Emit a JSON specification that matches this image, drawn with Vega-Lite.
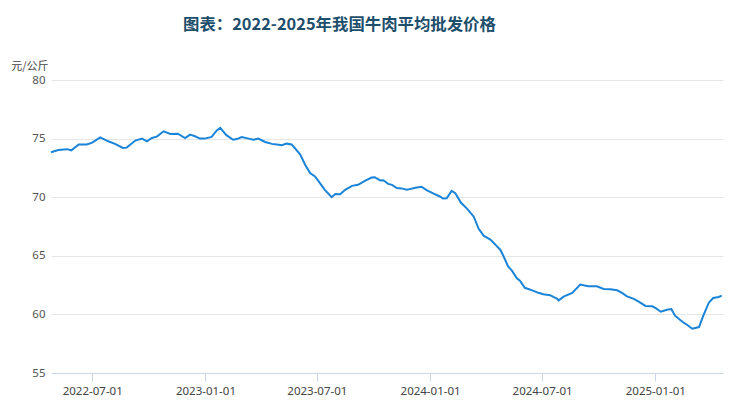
{
  "$schema": "https://vega.github.io/schema/vega-lite/v6.json",
  "width": 672,
  "height": 293,
  "autosize": "none",
  "padding": {"left": 51, "top": 80, "right": 27, "bottom": 42},
  "background": "#ffffff",
  "title": {
    "text": "图表：2022-2025年我国牛肉平均批发价格",
    "anchor": "start",
    "frame": "group",
    "dx": 132,
    "offset": 27,
    "font": "Noto Sans CJK SC",
    "fontSize": 16.4,
    "fontWeight": "bold",
    "color": "#1d4e6b"
  },
  "config": {
    "view": {"stroke": null},
    "axis": {
      "labelFont": "Noto Sans",
      "labelFontSize": 11,
      "labelColor": "#666666",
      "titleFont": "Noto Sans CJK SC",
      "titleFontWeight": "normal"
    }
  },
  "data": {
    "values": [
      {"date": "2022-04-25", "price": 73.83},
      {"date": "2022-05-07", "price": 74.03},
      {"date": "2022-05-21", "price": 74.1},
      {"date": "2022-05-28", "price": 74.0},
      {"date": "2022-06-09", "price": 74.5},
      {"date": "2022-06-22", "price": 74.5},
      {"date": "2022-07-01", "price": 74.65},
      {"date": "2022-07-14", "price": 75.1},
      {"date": "2022-07-27", "price": 74.77},
      {"date": "2022-08-07", "price": 74.55},
      {"date": "2022-08-20", "price": 74.2},
      {"date": "2022-08-26", "price": 74.23},
      {"date": "2022-09-09", "price": 74.83},
      {"date": "2022-09-20", "price": 75.0},
      {"date": "2022-09-28", "price": 74.77},
      {"date": "2022-10-06", "price": 75.05},
      {"date": "2022-10-14", "price": 75.17},
      {"date": "2022-10-25", "price": 75.62},
      {"date": "2022-11-05", "price": 75.4},
      {"date": "2022-11-17", "price": 75.42},
      {"date": "2022-11-29", "price": 75.05},
      {"date": "2022-12-07", "price": 75.34},
      {"date": "2022-12-15", "price": 75.2},
      {"date": "2022-12-23", "price": 75.0},
      {"date": "2022-12-31", "price": 75.0},
      {"date": "2023-01-11", "price": 75.14},
      {"date": "2023-01-19", "price": 75.68},
      {"date": "2023-01-25", "price": 75.91},
      {"date": "2023-02-04", "price": 75.29},
      {"date": "2023-02-15", "price": 74.9},
      {"date": "2023-02-21", "price": 74.96},
      {"date": "2023-03-01", "price": 75.14},
      {"date": "2023-03-12", "price": 75.0},
      {"date": "2023-03-20", "price": 74.9},
      {"date": "2023-03-28", "price": 75.0},
      {"date": "2023-04-08", "price": 74.71},
      {"date": "2023-04-19", "price": 74.55},
      {"date": "2023-04-27", "price": 74.5},
      {"date": "2023-05-05", "price": 74.43},
      {"date": "2023-05-13", "price": 74.57},
      {"date": "2023-05-21", "price": 74.5},
      {"date": "2023-05-26", "price": 74.2},
      {"date": "2023-06-04", "price": 73.63},
      {"date": "2023-06-12", "price": 72.77},
      {"date": "2023-06-20", "price": 72.06},
      {"date": "2023-06-28", "price": 71.77},
      {"date": "2023-07-06", "price": 71.2},
      {"date": "2023-07-14", "price": 70.63},
      {"date": "2023-07-25", "price": 70.0},
      {"date": "2023-07-31", "price": 70.28},
      {"date": "2023-08-08", "price": 70.26},
      {"date": "2023-08-16", "price": 70.63},
      {"date": "2023-08-27", "price": 70.97},
      {"date": "2023-09-06", "price": 71.06},
      {"date": "2023-09-17", "price": 71.4},
      {"date": "2023-09-28", "price": 71.68},
      {"date": "2023-10-03", "price": 71.71},
      {"date": "2023-10-12", "price": 71.43},
      {"date": "2023-10-17", "price": 71.45},
      {"date": "2023-10-25", "price": 71.14},
      {"date": "2023-10-31", "price": 71.05},
      {"date": "2023-11-08", "price": 70.78},
      {"date": "2023-11-16", "price": 70.75},
      {"date": "2023-11-24", "price": 70.63},
      {"date": "2023-11-29", "price": 70.69},
      {"date": "2023-12-08", "price": 70.8},
      {"date": "2023-12-18", "price": 70.89},
      {"date": "2023-12-27", "price": 70.58},
      {"date": "2024-01-06", "price": 70.32},
      {"date": "2024-01-17", "price": 70.06},
      {"date": "2024-01-22", "price": 69.89},
      {"date": "2024-01-28", "price": 69.91},
      {"date": "2024-02-05", "price": 70.54},
      {"date": "2024-02-11", "price": 70.34},
      {"date": "2024-02-20", "price": 69.54},
      {"date": "2024-03-01", "price": 69.03},
      {"date": "2024-03-12", "price": 68.34},
      {"date": "2024-03-20", "price": 67.3},
      {"date": "2024-03-28", "price": 66.72},
      {"date": "2024-04-08", "price": 66.38},
      {"date": "2024-04-16", "price": 65.95},
      {"date": "2024-04-24", "price": 65.52},
      {"date": "2024-04-29", "price": 65.0},
      {"date": "2024-05-07", "price": 64.08},
      {"date": "2024-05-13", "price": 63.73},
      {"date": "2024-05-21", "price": 63.08},
      {"date": "2024-05-26", "price": 62.87},
      {"date": "2024-06-03", "price": 62.27},
      {"date": "2024-06-14", "price": 62.07},
      {"date": "2024-06-25", "price": 61.84},
      {"date": "2024-07-03", "price": 61.72},
      {"date": "2024-07-14", "price": 61.64},
      {"date": "2024-07-25", "price": 61.35},
      {"date": "2024-07-28", "price": 61.2},
      {"date": "2024-08-05", "price": 61.52},
      {"date": "2024-08-19", "price": 61.83},
      {"date": "2024-09-01", "price": 62.54},
      {"date": "2024-09-14", "price": 62.4},
      {"date": "2024-09-28", "price": 62.4},
      {"date": "2024-10-09", "price": 62.17},
      {"date": "2024-10-20", "price": 62.15},
      {"date": "2024-10-31", "price": 62.06},
      {"date": "2024-11-08", "price": 61.83},
      {"date": "2024-11-16", "price": 61.54},
      {"date": "2024-11-27", "price": 61.32},
      {"date": "2024-12-05", "price": 61.09},
      {"date": "2024-12-16", "price": 60.72},
      {"date": "2024-12-27", "price": 60.69},
      {"date": "2025-01-01", "price": 60.55},
      {"date": "2025-01-10", "price": 60.23},
      {"date": "2025-01-20", "price": 60.4},
      {"date": "2025-01-27", "price": 60.46},
      {"date": "2025-02-02", "price": 59.89},
      {"date": "2025-02-16", "price": 59.29},
      {"date": "2025-02-21", "price": 59.14},
      {"date": "2025-03-02", "price": 58.78},
      {"date": "2025-03-13", "price": 58.92},
      {"date": "2025-03-20", "price": 59.89},
      {"date": "2025-03-29", "price": 61.0},
      {"date": "2025-04-05", "price": 61.4},
      {"date": "2025-04-14", "price": 61.49},
      {"date": "2025-04-19", "price": 61.6}
    ]
  },
  "mark": {"type": "line", "color": "#1a84d8", "strokeWidth": 2, "interpolate": "linear"},
  "encoding": {
    "x": {
      "field": "date",
      "type": "temporal",
      "scale": {
        "type": "utc",
        "domain": [
          {"year": 2022, "month": 4, "date": 25, "utc": true},
          {"year": 2025, "month": 4, "date": 21, "utc": true}
        ]
      },
      "axis": {
        "title": null,
        "format": "%Y-%m-%d",
        "tickCount": {"interval": "month", "step": 6},
        "grid": false,
        "domain": true,
        "domainColor": "#ccd6eb",
        "domainWidth": 1,
        "ticks": true,
        "tickColor": "#ccd6eb",
        "tickSize": 8,
        "labelPadding": 4,
        "labelFontSize": 11.5,
        "labelColor": "#444444"
      }
    },
    "y": {
      "field": "price",
      "type": "quantitative",
      "scale": {"domain": [55, 80], "zero": false, "nice": false},
      "axis": {
        "values": [55, 60, 65, 70, 75, 80],
        "grid": true,
        "gridColor": "#e6e6e6",
        "gridWidth": 1,
        "domain": false,
        "ticks": false,
        "labelPadding": 6,
        "labelFontSize": 11.5,
        "labelColor": "#555555",
        "title": "元/公斤",
        "titleAngle": 0,
        "titleAlign": "right",
        "titleBaseline": "bottom",
        "titleX": -3,
        "titleY": -9,
        "titleFontSize": 11,
        "titleColor": "#444444"
      }
    }
  }
}
